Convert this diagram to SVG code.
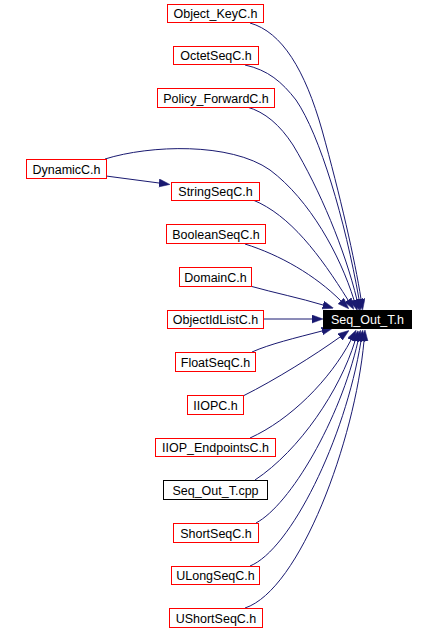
<svg xmlns="http://www.w3.org/2000/svg" width="436" height="630" viewBox="0 0 436 630">
<style>
.n rect{fill:#fff;stroke:#ff0000;stroke-width:1}
.n.b rect{stroke:#000}
.n text{font-family:"Liberation Sans",Arial,sans-serif;font-size:12.5px;fill:#000;text-anchor:middle}
.t rect{fill:#000;stroke:#000}
.t text{fill:#fff}
.e path{fill:none;stroke:#191970;stroke-width:1;marker-end:url(#ah)}
</style>
<defs>
<marker id="ah" markerUnits="userSpaceOnUse" markerWidth="11" markerHeight="9" refX="0" refY="4" orient="auto">
<path d="M0,0 L11,4 L0,8 z" fill="#191970" stroke="#191970" stroke-width="0.5"/>
</marker>
</defs>
<rect width="436" height="630" fill="#fff"/>
<g id="edges" class="e">
<path d="M250,23 C282,32 305,70 322,130 C340,195 355,260 361,299"/>
<path d="M245,65 C268,70 282,82 296,100 C320,135 345,220 359,299"/>
<path d="M247,107 C265,112 280,125 293,145 C320,190 345,250 357,300"/>
<path d="M105,159 C150,145 230,142 270,170 C310,200 340,255 354,300"/>
<path d="M106,176 L159,183"/>
<path d="M253,200 C290,215 320,255 348,300"/>
<path d="M245,244 C280,255 315,275 341,301"/>
<path d="M250,286 C275,293 300,298 323,305"/>
<path d="M263,319 L312,319"/>
<path d="M252,352 C270,344 295,338 322,331"/>
<path d="M243,396 C275,380 315,355 340,337"/>
<path d="M250,438 C290,420 330,380 351,340"/>
<path d="M255,480 C300,450 340,390 355,341"/>
<path d="M256,523 C290,505 340,420 358,341"/>
<path d="M250,566 C290,550 345,440 361,341"/>
<path d="M245,608 C300,590 355,440 364,341"/>
</g>
<g id="n_target" class="n t"><rect x="323.5" y="310.5" width="88" height="18"/><text x="367.5" y="324">Seq_Out_T.h</text></g>
<g id="n_objectkey" class="n"><rect x="167.5" y="4.5" width="96" height="18"/><text x="215.5" y="18">Object_KeyC.h</text></g>
<g id="n_octetseq" class="n"><rect x="173.5" y="46.5" width="85" height="18"/><text x="216" y="60">OctetSeqC.h</text></g>
<g id="n_policyfwd" class="n"><rect x="157.5" y="88.5" width="117" height="19"/><text x="216" y="102.5">Policy_ForwardC.h</text></g>
<g id="n_dynamic" class="n"><rect x="26.5" y="159.5" width="80" height="19"/><text x="66.5" y="173.5">DynamicC.h</text></g>
<g id="n_stringseq" class="n"><rect x="171.5" y="182.5" width="88" height="18"/><text x="215.5" y="196">StringSeqC.h</text></g>
<g id="n_booleanseq" class="n"><rect x="166.5" y="224.5" width="99" height="19"/><text x="216" y="238.5">BooleanSeqC.h</text></g>
<g id="n_domain" class="n"><rect x="179.5" y="267.5" width="72" height="19"/><text x="215.5" y="281.5">DomainC.h</text></g>
<g id="n_objectidlist" class="n"><rect x="167.5" y="310.5" width="96" height="18"/><text x="215.5" y="324">ObjectIdListC.h</text></g>
<g id="n_floatseq" class="n"><rect x="175.5" y="352.5" width="80" height="19"/><text x="215.5" y="366.5">FloatSeqC.h</text></g>
<g id="n_iiopc" class="n"><rect x="187.5" y="395.5" width="56" height="19"/><text x="215.5" y="409.5">IIOPC.h</text></g>
<g id="n_iiopendpoints" class="n"><rect x="155.5" y="438.5" width="120" height="18"/><text x="215.5" y="452">IIOP_EndpointsC.h</text></g>
<g id="n_seqoutcpp" class="n b"><rect x="163.5" y="480.5" width="104" height="19"/><text x="215.5" y="494.5">Seq_Out_T.cpp</text></g>
<g id="n_shortseq" class="n"><rect x="173.5" y="523.5" width="85" height="19"/><text x="216" y="537.5">ShortSeqC.h</text></g>
<g id="n_ulongseq" class="n"><rect x="171.5" y="566.5" width="88" height="18"/><text x="215.5" y="580">ULongSeqC.h</text></g>
<g id="n_ushortseq" class="n"><rect x="169.5" y="608.5" width="93" height="19"/><text x="216" y="622.5">UShortSeqC.h</text></g>
</svg>
